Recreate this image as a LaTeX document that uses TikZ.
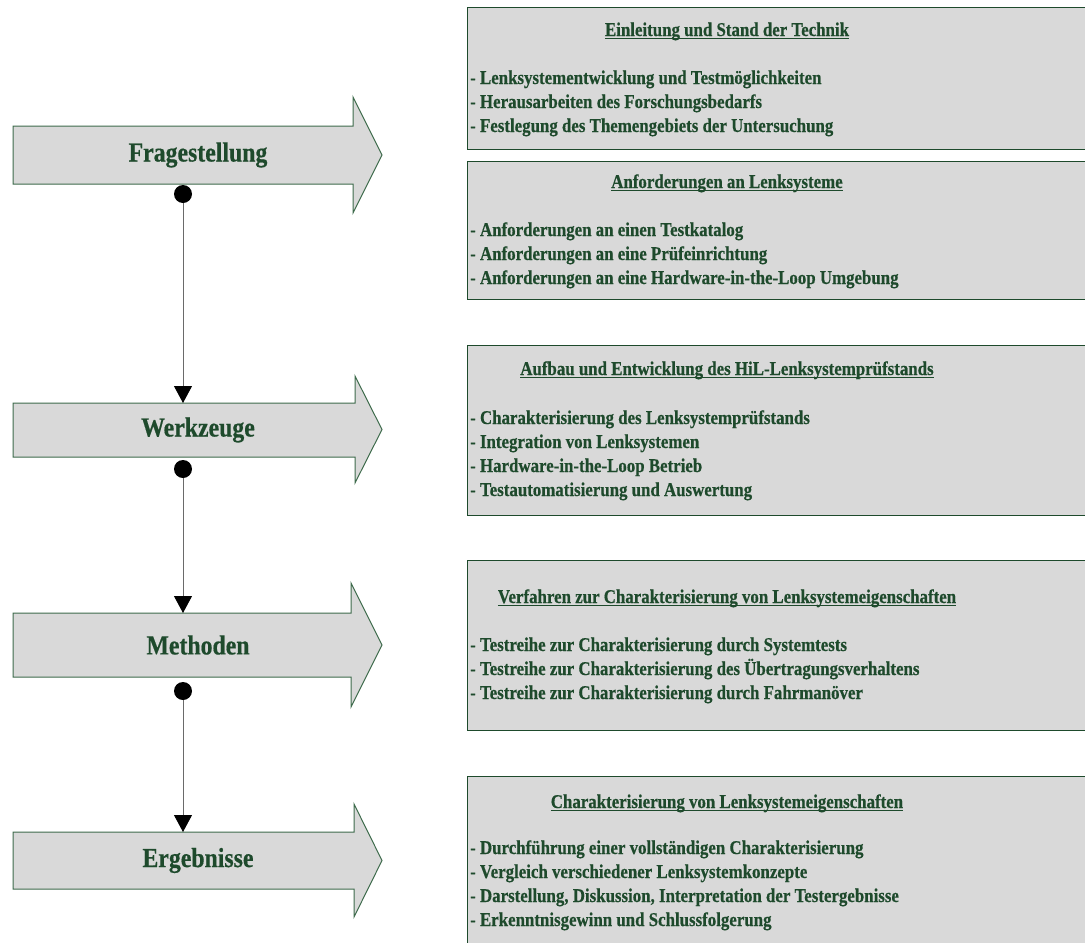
\documentclass[tikz,border=0pt]{standalone}
\usepackage{fontspec}
\setmainfont{Liberation Serif}[FakeStretch=0.865, BoldFeatures={FakeBold=0.5}]
\usetikzlibrary{arrows.meta}

\definecolor{panel}{HTML}{D9D9D9}
\definecolor{leaf}{HTML}{1E4A2C}
\definecolor{rim}{HTML}{3E6B4C}
\definecolor{stem}{HTML}{6A6A6A}

% underlined heading: rule sits just below the baseline
\newcommand\headline[1]{\setbox0\hbox{#1}\rlap{\rule[-2.8pt]{\wd0}{1.3pt}}\box0}

% stage arrow: name, text, body top, body bottom, head top, head bottom, head base x
\newcommand\stagearrow[7]{%
  \draw[flow] (13,#3) -- (#7,#3) -- (#7,#5) -- (382,{(#5+#6)/2}) -- (#7,#6)
    -- (#7,#4) -- (13,#4) -- cycle;
  \node[stagetext] (#1) at (198,{(#3+#4)/2}) {#2};
  \coordinate (#1-top) at (183,#3);
}

\begin{document}
\begin{tikzpicture}[x=1pt,y=-1pt,
  flow/.style={draw=rim, fill=panel, line width=1pt},
  panelbox/.style={draw=leaf, fill=panel, line width=1pt},
  stagetext/.style={text=leaf, font=\bfseries\fontsize{27.5}{30}\selectfont, inner sep=0},
  boxtitle/.style={text=leaf, font=\bfseries\fontsize{19.5}{24}\selectfont, inner sep=0, anchor=base},
  bullettext/.style={text=leaf, font=\bfseries\fontsize{19.5}{24}\selectfont, inner sep=0, anchor=base west},
  dot/.style={circle, fill=black, minimum size=18pt, inner sep=0},
  link/.style={draw=stem, line width=0.9pt, -{Triangle[width=18pt,length=17pt,color=black]}}
]
\useasboundingbox (0,0) rectangle (1085,943);
\clip (0,0) rectangle (1085,943);

% ---- stages on the left ----
\stagearrow{fra}{Fragestellung}{126}{184}{97}{213}{353}
\stagearrow{wkz}{Werkzeuge}{403}{457}{376}{483}{355}
\stagearrow{met}{Methoden}{613}{677}{583}{707}{351}
\stagearrow{erg}{Ergebnisse}{832}{889}{804}{917}{354}

\node[dot] (d1) at (183,194) {};
\node[dot] (d2) at (183,469) {};
\node[dot] (d3) at (183,691) {};

\draw[link] (d1) -- (wkz-top);
\draw[link] (d2) -- (met-top);
\draw[link] (d3) -- (erg-top);

% ---- content panels on the right ----
\draw[panelbox] (467,7) rectangle (1100,149);
\node[boxtitle] (h1) at (727,36) {\headline{Einleitung und Stand der Technik}};
\node[bullettext] (p1a) at (470,84) {- Lenksystementwicklung und Testmöglichkeiten};
\node[bullettext] (p1b) at (470,108) {- Herausarbeiten des Forschungsbedarfs};
\node[bullettext] (p1c) at (470,132) {- Festlegung des Themengebiets der Untersuchung};

\draw[panelbox] (467,161) rectangle (1100,299);
\node[boxtitle] (h2) at (727,188) {\headline{Anforderungen an Lenksysteme}};
\node[bullettext] (p2a) at (470,236) {- Anforderungen an einen Testkatalog};
\node[bullettext] (p2b) at (470,260) {- Anforderungen an eine Prüfeinrichtung};
\node[bullettext] (p2c) at (470,284) {- Anforderungen an eine Hardware-in-the-Loop Umgebung};

\draw[panelbox] (467,345) rectangle (1100,515);
\node[boxtitle] (h3) at (727,375) {\headline{Aufbau und Entwicklung des HiL-Lenksystemprüfstands}};
\node[bullettext] (p3a) at (470,424) {- Charakterisierung des Lenksystemprüfstands};
\node[bullettext] (p3b) at (470,448) {- Integration von Lenksystemen};
\node[bullettext] (p3c) at (470,472) {- Hardware-in-the-Loop Betrieb};
\node[bullettext] (p3d) at (470,496) {- Testautomatisierung und Auswertung};

\draw[panelbox] (467,560) rectangle (1100,730);
\node[boxtitle] (h4) at (727,603) {\headline{Verfahren zur Charakterisierung von Lenksystemeigenschaften}};
\node[bullettext] (p4a) at (470,651) {- Testreihe zur Charakterisierung durch Systemtests};
\node[bullettext] (p4b) at (470,675) {- Testreihe zur Charakterisierung des Übertragungsverhaltens};
\node[bullettext] (p4c) at (470,699) {- Testreihe zur Charakterisierung durch Fahrmanöver};

\draw[panelbox] (467,776) rectangle (1100,960);
\node[boxtitle] (h5) at (727,808) {\headline{Charakterisierung von Lenksystemeigenschaften}};
\node[bullettext] (p5a) at (470,854) {- Durchführung einer vollständigen Charakterisierung};
\node[bullettext] (p5b) at (470,878) {- Vergleich verschiedener Lenksystemkonzepte};
\node[bullettext] (p5c) at (470,902) {- Darstellung, Diskussion, Interpretation der Testergebnisse};
\node[bullettext] (p5d) at (470,926) {- Erkenntnisgewinn und Schlussfolgerung};
\end{tikzpicture}
\end{document}
